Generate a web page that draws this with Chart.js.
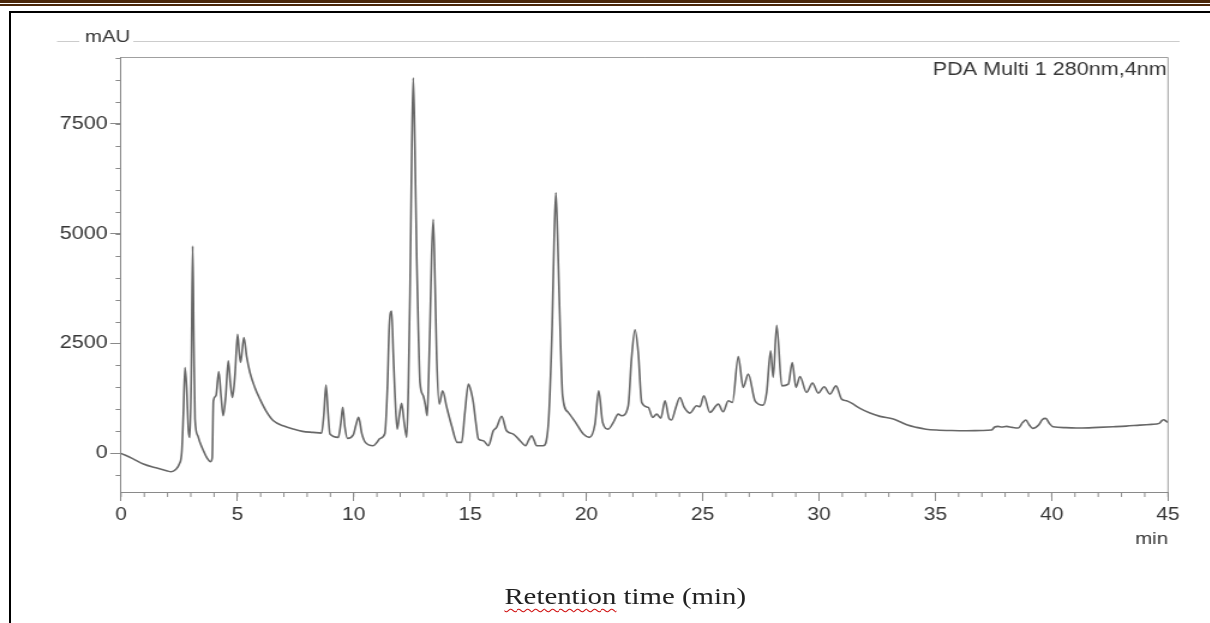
<!DOCTYPE html>
<html>
<head>
<meta charset="utf-8">
<script src="https://cdn.jsdelivr.net/npm/chart.js@4.4.1/dist/chart.umd.min.js"></script>
<style>
  html, body { margin: 0; padding: 0; background: #fff; overflow: hidden; }
  body { width: 1210px; height: 623px; position: relative; }
  .rule { position: absolute; }
  #stretch {
    position: absolute; left: 0; top: 0; width: 1009px; height: 623px;
    transform: scaleX(1.2); transform-origin: 0 0;
  }
  #chartBox { position: absolute; left: 0; top: 0; width: 1009px; height: 623px; }
  #caption {
    position: absolute; left: 521px; top: 584px; transform: translateX(-50%);
    font-family: "Liberation Serif", "Times New Roman", serif; font-size: 24px; line-height: 24px;
    color: #222; white-space: nowrap;
  }
  #caption .spell {
    text-decoration: underline wavy #d01010; text-decoration-thickness: 1px; text-underline-offset: 4px;
  }
</style>
</head>
<body>
<!-- page rules from the document -->
<div class="rule" style="left:0;top:0;width:1210px;height:3px;background:#4a2608"></div>
<div class="rule" style="left:0;top:4px;width:1210px;height:1.5px;background:#4a2608"></div>
<div class="rule" style="left:9px;top:11px;width:1201px;height:2px;background:#000"></div>
<div class="rule" style="left:9px;top:11px;width:2px;height:612px;background:#000"></div>

<div id="stretch">
  <div id="chartBox"><canvas id="chromChart"></canvas></div>
  <div id="caption"><span class="spell">Retention</span> time (min)</div>
</div>

<script>
// Chromatogram trace (PDA 280 nm)
const times = [
  0.00, 0.50, 0.96, 1.50, 1.96, 2.15, 2.35, 2.50, 2.61, 2.68, 2.75, 2.82, 2.90, 2.96, 3.02, 3.08,
  3.13, 3.18, 3.30, 3.39, 3.55, 3.68, 3.85, 3.92, 3.97, 4.08, 4.20, 4.30, 4.39, 4.50, 4.61, 4.70,
  4.79, 4.90, 5.01, 5.08, 5.14, 5.28, 5.40, 5.54, 5.75, 5.97, 6.25, 6.55, 7.00, 7.40, 7.80, 8.26,
  8.62, 8.72, 8.81, 8.90, 8.98, 9.34, 9.45, 9.53, 9.62, 9.73, 9.98, 10.10, 10.21, 10.35, 10.50, 10.84,
  11.00, 11.13, 11.34, 11.45, 11.53, 11.63, 11.70, 11.77, 11.87, 11.96, 12.06, 12.17, 12.28, 12.35, 12.42, 12.50,
  12.56, 12.63, 12.71, 12.78, 12.85, 12.99, 13.08, 13.16, 13.22, 13.28, 13.35, 13.42, 13.50, 13.57, 13.68, 13.82,
  14.00, 14.21, 14.45, 14.64, 14.78, 14.93, 15.05, 15.14, 15.25, 15.36, 15.57, 15.79, 16.00, 16.14, 16.36, 16.57,
  16.86, 17.15, 17.39, 17.52, 17.65, 17.75, 17.86, 18.15, 18.36, 18.53, 18.62, 18.69, 18.76, 18.83, 18.98, 19.22,
  19.58, 19.87, 20.13, 20.37, 20.53, 20.70, 20.94, 21.16, 21.37, 21.51, 21.80, 21.94, 22.09, 22.23, 22.38, 22.66,
  22.85, 23.02, 23.20, 23.38, 23.55, 23.66, 23.85, 24.02, 24.20, 24.45, 24.74, 24.88, 25.05, 25.31, 25.67, 25.88,
  26.10, 26.28, 26.53, 26.74, 26.96, 27.25, 27.60, 27.75, 27.92, 28.03, 28.18, 28.40, 28.68, 28.85, 29.01, 29.18,
  29.46, 29.72, 29.97, 30.22, 30.47, 30.73, 30.97, 31.18, 31.40, 31.76, 32.19, 32.62, 33.19, 33.48, 33.77, 34.19,
  34.60, 35.05, 35.70, 36.34, 37.00, 37.41, 37.55, 37.70, 37.85, 38.06, 38.30, 38.56, 38.75, 38.89, 39.03, 39.18,
  39.45, 39.60, 39.74, 39.90, 40.06, 40.60, 41.21, 42.00, 42.64, 43.20, 43.79, 44.30, 44.62, 44.75, 44.82, 44.92,
  45.00
];
const mAU = [
  0, -120, -243, -330, -395, -420, -370, -250, 23, 900, 1955, 1500, 500, 364, 1800, 4718,
  2500, 780, 400, 250, 50, -91, -190, -100, 1196, 1310, 1864, 1300, 855, 1300, 2105, 1600,
  1272, 1800, 2711, 2300, 2068, 2636, 2200, 1840, 1500, 1234, 950, 741, 620, 552, 500, 477,
  461, 900, 1552, 900, 439, 364, 700, 1045, 600, 340, 420, 650, 818, 450, 250, 174,
  250, 340, 450, 1500, 2900, 3241, 2300, 1386, 552, 850, 1136, 700, 364, 1500, 3659, 7000,
  8545, 7000, 4416, 2800, 1614, 1309, 1100, 855, 1700, 2900, 4500, 5325, 3800, 2143, 1120, 1423,
  1045, 627, 250, 250, 932, 1575, 1400, 1159, 700, 325, 287, 174, 514, 590, 841, 514,
  439, 287, 174, 300, 400, 300, 174, 174, 627, 2900, 5000, 5932, 5000, 3659, 1309, 932,
  666, 439, 364, 666, 1423, 705, 552, 705, 893, 855, 1082, 2143, 2809, 2295, 1159, 1045,
  818, 893, 800, 1196, 800, 757, 1050, 1272, 1050, 916, 1082, 1060, 1309, 932, 1120, 945,
  1196, 1159, 2205, 1500, 1802, 1196, 1098, 1386, 2333, 1727, 2916, 1536, 1575, 2068, 1500, 1750,
  1386, 1598, 1370, 1514, 1348, 1536, 1234, 1196, 1143, 1022, 916, 841, 780, 718, 650, 591,
  550, 530, 518, 514, 520, 530, 600, 614, 600, 614, 590, 575, 700, 757, 650, 568,
  650, 770, 795, 680, 605, 585, 575, 590, 605, 620, 643, 660, 682, 750, 764, 730,
  705
];

// Axis ticks
const xMajorTicks = [0, 5, 10, 15, 20, 25, 30, 35, 40, 45];
const yMajorTicks = [0, 2500, 5000, 7500];
const yTickLabels = ["0", "2500", "5000", "7500"];
const xMinorTicks = [];
for (let m = 0; m <= 45; m++) xMinorTicks.push(m);
const yMinorTicks = [];
for (let v = -500; v <= 9000; v += 500) yMinorTicks.push(v);

const axisColor = "#8a8a8a";
const textColor = "#363636";
const sansFont = "'Liberation Sans', Arial, sans-serif";

// extra bits the instrument software draws: frame, minor ticks, mAU / min / channel labels
const chromDecor = {
  id: "chromDecor",
  afterDraw(chart) {
    const { ctx, chartArea: a, scales: { x, y } } = chart;
    ctx.save();
    ctx.lineWidth = 1;

    // top and right frame
    ctx.strokeStyle = "#a0a0a0";
    ctx.beginPath();
    ctx.moveTo(a.left, a.top + 0.5);
    ctx.lineTo(a.right, a.top + 0.5);
    ctx.lineTo(a.right, a.bottom);
    ctx.stroke();

    // minor ticks
    ctx.strokeStyle = axisColor;
    ctx.beginPath();
    xMinorTicks.forEach(v => {
      const px = x.getPixelForValue(v);
      ctx.moveTo(px, a.bottom);
      ctx.lineTo(px, a.bottom + 5);
    });
    yMinorTicks.forEach(v => {
      const py = Math.round(y.getPixelForValue(v)) + 0.5;
      ctx.moveTo(a.left, py);
      ctx.lineTo(a.left - 4.5, py);
    });
    ctx.stroke();

    // mAU header rule
    ctx.strokeStyle = "#cccccc";
    ctx.beginPath();
    ctx.moveTo(47.5, 41.5); ctx.lineTo(66, 41.5);
    ctx.moveTo(111, 41.5); ctx.lineTo(983, 41.5);
    ctx.stroke();

    ctx.fillStyle = textColor;
    ctx.font = "17px " + sansFont;
    ctx.textAlign = "left";
    ctx.textBaseline = "alphabetic";
    ctx.fillText("mAU", 70.8, 42);

    ctx.textAlign = "right";
    ctx.fillText("min", a.right, 544);

    ctx.font = "18px " + sansFont;
    ctx.fillText("PDA Multi 1 280nm,4nm", a.right - 1, 75);
    ctx.restore();
  }
};

document.addEventListener("DOMContentLoaded", () => {
  const ctx = document.getElementById("chromChart").getContext("2d");
  new Chart(ctx, {
    type: "line",
    data: {
      datasets: [{
        label: "PDA Multi 1 280nm,4nm",
        data: times.map((t, i) => ({ x: t, y: mAU[i] })),
        borderColor: "#676767",
        borderWidth: 1.6,
        pointRadius: 0,
        fill: false,
        cubicInterpolationMode: "monotone"
      }]
    },
    options: {
      responsive: true,
      maintainAspectRatio: false,
      animation: false,
      layout: { padding: { left: 0, right: 35.67, top: 57, bottom: 91 } },
      plugins: { legend: { display: false }, tooltip: { enabled: false } },
      scales: {
        x: {
          type: "linear",
          min: 0,
          max: 45,
          afterBuildTicks: s => { s.ticks = xMajorTicks.map(v => ({ value: v })); },
          afterFit: s => { s.height = 40; },
          border: { color: axisColor, width: 1 },
          grid: { drawOnChartArea: false, tickLength: 9, color: axisColor },
          ticks: {
            autoSkip: false, maxRotation: 0, padding: 4, color: textColor,
            font: { family: sansFont, size: 17.5 },
            callback: v => String(v)
          }
        },
        y: {
          min: -880,
          max: 9020,
          afterBuildTicks: s => { s.ticks = yMajorTicks.map(v => ({ value: v })); },
          afterFit: s => { s.width = 100.83; },
          border: { color: axisColor, width: 1 },
          grid: { drawOnChartArea: false, tickLength: 9, color: axisColor },
          ticks: {
            padding: 2, color: textColor,
            font: { family: sansFont, size: 18 },
            callback: v => yTickLabels[yMajorTicks.indexOf(v)]
          }
        }
      }
    },
    plugins: [chromDecor]
  });
});
</script>
</body>
</html>
